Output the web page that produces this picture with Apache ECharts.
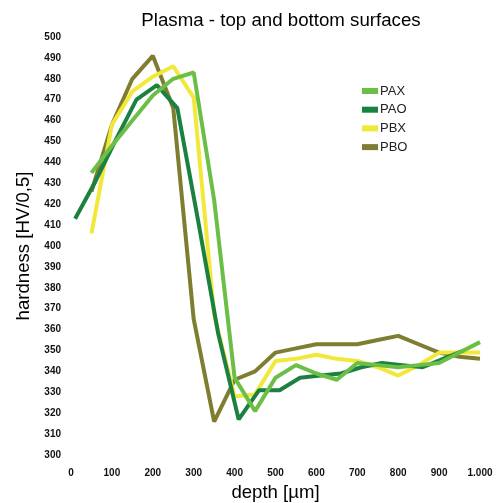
<!DOCTYPE html>
<html>
<head>
<meta charset="utf-8">
<script src="https://cdn.jsdelivr.net/npm/echarts@6/dist/echarts.min.js"></script>
<style>
  html, body { margin: 0; padding: 0; background: #fff; }
  #chart { width: 500px; height: 503px; }
</style>
</head>
<body>
<div id="chart"></div>
<script>
// depths in µm
const depthsStd = [50, 100, 150, 200, 250, 300, 350, 400, 450, 500, 550, 600, 650, 700, 750, 800, 850, 900, 950, 1000];
const depthsPAO = [10, 60, 110, 160, 210, 260, 310, 360, 410, 460, 510, 560, 610, 660, 710, 760, 810, 860, 910, 960];

// hardness values HV0,5
const pax = [435, 448, 460, 472, 480, 483, 422, 337, 321, 337, 343, 339, 336, 344, 343, 342, 343, 344, 349, 354];
const pao = [413, 431, 451, 470, 477, 466, 413, 358, 317, 331, 331, 337, 338, 339, 342, 344, 343, 342, 346, 350];
const pbx = [406, 458, 474, 481, 486, 471, 367, 328, 329, 345, 346, 348, 346, 345, 342, 338, 343, 349, 349, 349];
const pbo = [426, 458, 480, 491, 466, 365, 316, 336, 340, 349, 351, 353, 353, 353, 355, 357, 353, 349, 347, 346];

const seriesNames = ['PAX', 'PAO', 'PBX', 'PBO'];
const seriesColors = ['#6cbf46', '#1b8140', '#f2e83a', '#7f7d30'];

const FONT = '"Liberation Sans", Arial, sans-serif';

const zip = (xs, ys) => xs.map((x, i) => [x, ys[i]]);

const chart = echarts.init(document.getElementById('chart'));

const makeLine = (name, xs, ys, z) => ({
    name: name,
    type: 'line',
    data: zip(xs, ys),
    showSymbol: false,
    symbol: 'none',
    z: z,
    lineStyle: { width: 4, color: seriesColors[seriesNames.indexOf(name)] },
    itemStyle: { color: seriesColors[seriesNames.indexOf(name)] },
});

const option = {
    animation: false,
    backgroundColor: '#fff',
    title: {
        text: 'Plasma - top and bottom surfaces',
        left: 276,
        textAlign: 'center',
        top: 6,
        textStyle: { fontFamily: FONT, fontSize: 18.7, fontWeight: 'normal', color: '#000' },
    },
    legend: {
        data: seriesNames,
        orient: 'vertical',
        left: 362,
        top: 84,
        padding: 0,
        icon: 'rect',
        itemWidth: 16,
        itemHeight: 6,
        itemGap: 4.7,
        textStyle: { fontFamily: FONT, fontSize: 13, color: '#222', lineHeight: 14, padding: [0, 0, 0, -3] },
    },
    grid: { left: 71, right: 20, top: 37, bottom: 48, outerBoundsMode: 'none' },
    xAxis: {
        type: 'value',
        min: 0,
        max: 1000,
        interval: 100,
        name: 'depth [µm]',
        nameLocation: 'middle',
        nameGap: 27,
        nameTextStyle: { fontFamily: FONT, fontSize: 18.6, color: '#000' },
        axisLine: { show: false },
        axisTick: { show: false },
        splitLine: { show: false },
        axisLabel: {
            margin: 13,
            fontFamily: FONT,
            fontSize: 10,
            fontWeight: 'bold',
            color: '#111',
            formatter: (v) => (v === 1000 ? '1.000' : String(v)),
        },
    },
    yAxis: {
        type: 'value',
        min: 300,
        max: 500,
        interval: 10,
        name: 'hardness [HV/0,5]',
        nameLocation: 'middle',
        nameGap: 38,
        nameTextStyle: { fontFamily: FONT, fontSize: 18.6, color: '#000' },
        axisLine: { show: false },
        axisTick: { show: false },
        splitLine: { show: false },
        axisLabel: { margin: 10, fontFamily: FONT, fontSize: 10, fontWeight: 'bold', color: '#111' },
    },
    series: [
        makeLine('PBO', depthsStd, pbo, 2),
        makeLine('PBX', depthsStd, pbx, 3),
        makeLine('PAO', depthsPAO, pao, 4),
        makeLine('PAX', depthsStd, pax, 5),
    ],
};

chart.setOption(option);
</script>
</body>
</html>
